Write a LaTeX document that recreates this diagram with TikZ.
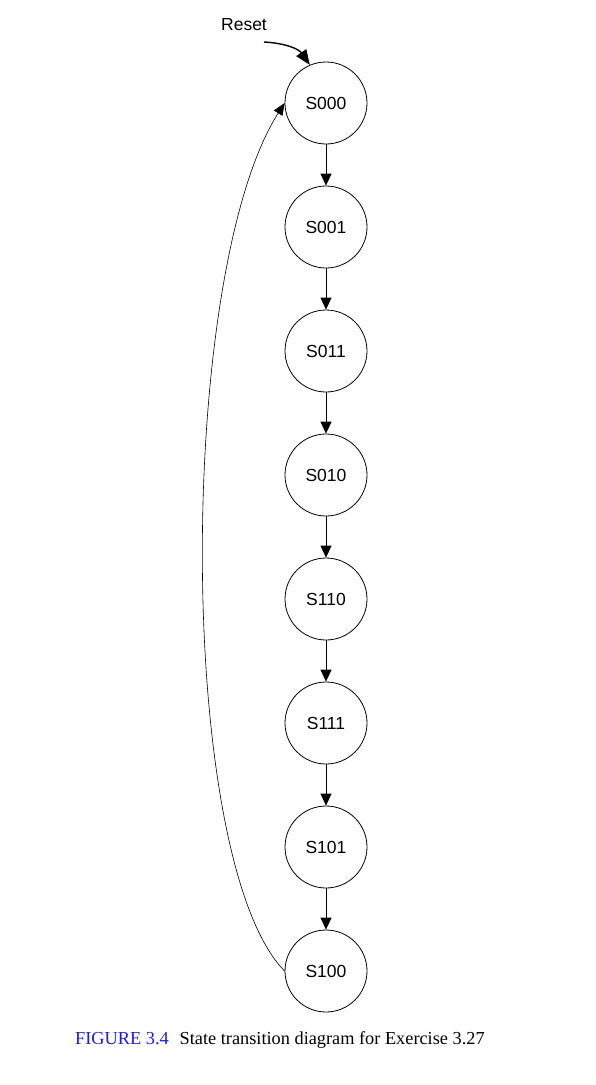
\documentclass[tikz,border=0pt]{standalone}
\usepackage{fontspec}
\setmainfont{Liberation Serif}
\newfontfamily\statefont{Liberation Sans}
\usepackage{tikz}
\usetikzlibrary{positioning, arrows.meta}
\definecolor{figblue}{HTML}{1C1CE0}

\begin{document}
\begin{tikzpicture}[x=1pt, y=1pt, node distance=41.2pt,
  state/.style={draw, circle, line width=0.8pt, minimum size=82pt, inner sep=0pt, font=\statefont\fontsize{17.5}{20}\selectfont},
  tr/.style={line width=0.8pt, -{Triangle[length=12pt, width=11pt]}}]
\useasboundingbox (0,0) rectangle (595,-1085);
\node[state] (s000) at (326,-103) {S000};
\node[state, below=of s000] (s001) {S001};
\node[state, below=of s001] (s011) {S011};
\node[state, below=of s011] (s010) {S010};
\node[state, below=of s010] (s110) {S110};
\node[state, below=of s110] (s111) {S111};
\node[state, below=of s111] (s101) {S101};
\node[state, below=of s101] (s100) {S100};
% reset input
\node[font=\statefont\fontsize{17.5}{20}\selectfont] (reset) at (244,-25) {Reset};
\coordinate (rst) at (264,-42);
\draw[line width=1.4pt, -{Triangle[length=15pt, width=12pt]}] (rst) to[out=-3, in=125] (s000.113);
% state chain
\foreach \a/\b in {s000/s001, s001/s011, s011/s010, s010/s110, s110/s111, s111/s101, s101/s100}
  \draw[tr] (\a) -- (\b);
% wrap back to start
\draw[line width=0.6pt, -{Triangle[length=12pt, width=10pt]}] (s100.west) .. controls (176,-861) and (176,-274) .. (s000.west);
\node[anchor=west, font=\fontsize{18.3}{20}\selectfont, inner sep=0pt] (cap) at (75,-1040) {\textcolor{figblue}{FIGURE 3.4}\hspace{0.6em}State transition diagram for Exercise 3.27};
\end{tikzpicture}
\end{document}
